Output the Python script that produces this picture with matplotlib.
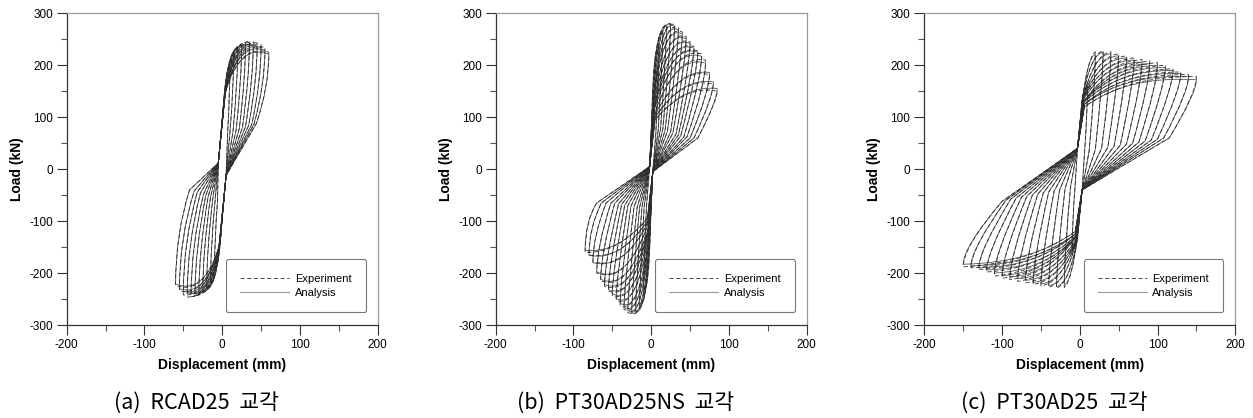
import matplotlib
matplotlib.use("Agg")
import matplotlib.pyplot as plt
from matplotlib.ticker import MultipleLocator
from matplotlib.path import Path
from matplotlib.patches import PathPatch
from matplotlib.lines import Line2D

# ---- panel (a) RCAD25 : one entry per displacement cycle ----
a_amp = [10, 15, 20, 25, 30, 35, 40, 45, 50, 55, 60]
a_exp_pos = [200, 222, 234, 240, 244, 246, 245, 243, 240, 234, 225]
a_exp_neg = [-195, -218, -230, -236, -240, -243, -245, -246, -242, -234, -224]
a_ana_pos = [206, 226, 236, 239, 240, 240, 239, 237, 234, 229, 221]
a_ana_neg = [-200, -222, -232, -236, -238, -239, -239, -238, -235, -230, -221]
a_stiff_x = [1, 2, 2, 2, 3, 3, 3, 3, 4, 4, 4]
a_stiff_f = [110, 120, 125, 130, 135, 140, 140, 145, 145, 150, 150]
a_knee_x = [4, 6, 8, 10, 12, 14, 16, 18, 20, 22, 24]
a_knee_f = [190, 215, 230, 238, 244, 248, 250, 250, 250, 248, 244]
a_drop_pos = [150, 162, 170, 175, 178, 178, 176, 172, 168, 164, 158]
a_drop_neg = [-140, -150, -155, -158, -158, -155, -150, -145, -140, -132, -124]
a_mid_pos_x = [7, 10, 14, 18, 22, 26, 30, 34, 38, 41, 44]
a_mid_pos_f = [70, 72, 74, 76, 78, 80, 82, 84, 86, 87, 88]
a_mid_neg_x = [-6, -9, -12, -15, -18, -21, -24, -28, -32, -36, -42]
a_mid_neg_f = [-60, -58, -56, -54, -52, -50, -48, -46, -44, -42, -40]
a_pinch = (5, 12)

# ---- panel (b) PT30AD25NS ----
b_amp = [10, 15, 20, 25, 30, 35, 40, 45, 50, 55, 60, 65, 70, 75, 80, 85]
b_exp_pos = [235, 262, 276, 280, 278, 272, 264, 255, 245, 236, 228, 222, 210, 182, 164, 150]
b_exp_neg = [-230, -258, -272, -278, -276, -270, -262, -252, -243, -235, -226, -215, -200, -178, -165, -160]
b_ana_pos = [240, 266, 276, 278, 275, 268, 260, 251, 242, 233, 225, 217, 204, 186, 168, 155]
b_ana_neg = [-236, -262, -274, -276, -272, -266, -258, -249, -240, -232, -222, -212, -198, -180, -166, -156]
b_stiff_x = [1, 2, 2, 2, 3, 3, 3, 3, 4, 4, 4, 4, 5, 5, 5, 5]
b_stiff_f = [110, 120, 125, 130, 130, 130, 130, 125, 125, 120, 120, 115, 110, 105, 100, 95]
b_knee_x = [3, 5, 7, 9, 11, 13, 15, 18, 20, 23, 26, 29, 32, 36, 40, 44]
b_knee_f = [240, 268, 285, 292, 292, 288, 282, 272, 262, 252, 244, 236, 222, 196, 178, 164]
b_drop_pos = [200, 225, 238, 240, 238, 232, 225, 215, 205, 198, 190, 180, 165, 150, 140, 132]
b_drop_neg = [-200, -222, -232, -236, -234, -228, -220, -210, -200, -190, -180, -165, -150, -130, -112, -100]
b_mid_pos_x = [6, 9, 12, 15, 18, 21, 25, 28, 32, 35, 38, 42, 46, 50, 55, 60]
b_mid_pos_f = [70, 75, 78, 78, 76, 74, 72, 70, 68, 66, 64, 62, 62, 60, 60, 60]
b_mid_neg_x = [-6, -9, -12, -15, -18, -22, -26, -30, -34, -38, -42, -47, -52, -58, -64, -70]
b_mid_neg_f = [-70, -72, -74, -74, -73, -72, -71, -70, -69, -68, -67, -66, -66, -65, -65, -65]
b_pinch = (2, 5)

# ---- panel (c) PT30AD25 ----
c_amp = [10, 20, 30, 40, 50, 60, 70, 80, 90, 100, 110, 120, 130, 140, 150]
c_exp_pos = [160, 226, 228, 226, 222, 218, 214, 211, 208, 205, 200, 193, 187, 182, 178]
c_exp_neg = [-155, -228, -229, -227, -225, -222, -219, -216, -213, -210, -206, -198, -193, -190, -188]
c_ana_pos = [166, 222, 225, 222, 218, 214, 210, 206, 203, 200, 196, 190, 184, 178, 172]
c_ana_neg = [-160, -224, -226, -224, -221, -218, -214, -211, -208, -205, -200, -194, -190, -186, -183]
c_stiff_x = [2, 3, 3, 4, 4, 4, 4, 5, 5, 5, 5, 5, 6, 6, 6]
c_stiff_f = [100, 130, 135, 135, 135, 135, 135, 135, 130, 130, 130, 128, 125, 125, 120]
c_knee_x = [4, 10, 14, 18, 22, 26, 30, 34, 38, 42, 46, 50, 54, 58, 62]
c_knee_f = [150, 215, 222, 222, 218, 214, 210, 206, 202, 199, 196, 192, 188, 184, 181]
c_drop_pos = [110, 170, 178, 178, 176, 174, 172, 170, 168, 166, 163, 160, 155, 150, 146]
c_drop_neg = [-110, -170, -180, -180, -178, -176, -174, -172, -170, -168, -165, -162, -158, -154, -150]
c_mid_pos_x = [6, 12, 20, 28, 36, 44, 52, 60, 68, 76, 84, 92, 100, 108, 115]
c_mid_pos_f = [30, 35, 38, 40, 42, 44, 46, 48, 50, 52, 54, 56, 58, 60, 60]
c_mid_neg_x = [-6, -12, -19, -26, -33, -40, -47, -54, -61, -68, -75, -82, -89, -95, -100]
c_mid_neg_f = [-30, -35, -38, -40, -42, -44, -46, -48, -50, -52, -54, -56, -58, -60, -62]
c_pinch = (3, 40)

captions = ["(a)  RCAD25  교각", "(b)  PT30AD25NS  교각", "(c)  PT30AD25  교각"]


def loop_path(amp, pos, neg, sx, sf, kx, kf, dpos, dneg, mpx, mpf, mnx, mnf, pinch):
    # each half cycle: pinch -> stiff branch -> (knee as curve control) -> peak
    # -> (drop as curve control) -> unloading mid point -> pinch
    px, pf = pinch
    verts = [(-px, pf)]
    codes = [Path.MOVETO]
    for i in range(len(amp)):
        verts += [(sx[i], sf[i]), (kx[i], kf[i]), (amp[i], pos[i]),
                  (amp[i], dpos[i]), (mpx[i], mpf[i]), (px, -pf)]
        verts += [(-sx[i], -sf[i]), (-kx[i], -kf[i]), (-amp[i], neg[i]),
                  (-amp[i], dneg[i]), (mnx[i], mnf[i]), (-px, pf)]
        half = [Path.LINETO, Path.CURVE3, Path.CURVE3, Path.CURVE3, Path.CURVE3, Path.LINETO]
        codes += half + half
    return Path(verts, codes)


panels = [
    (a_amp, a_exp_pos, a_exp_neg, a_ana_pos, a_ana_neg, a_stiff_x, a_stiff_f, a_knee_x, a_knee_f,
     a_drop_pos, a_drop_neg, a_mid_pos_x, a_mid_pos_f, a_mid_neg_x, a_mid_neg_f, a_pinch),
    (b_amp, b_exp_pos, b_exp_neg, b_ana_pos, b_ana_neg, b_stiff_x, b_stiff_f, b_knee_x, b_knee_f,
     b_drop_pos, b_drop_neg, b_mid_pos_x, b_mid_pos_f, b_mid_neg_x, b_mid_neg_f, b_pinch),
    (c_amp, c_exp_pos, c_exp_neg, c_ana_pos, c_ana_neg, c_stiff_x, c_stiff_f, c_knee_x, c_knee_f,
     c_drop_pos, c_drop_neg, c_mid_pos_x, c_mid_pos_f, c_mid_neg_x, c_mid_neg_f, c_pinch),
]

plt.rcParams['font.family'] = ['Liberation Sans', 'DejaVu Sans']
plt.rcParams['axes.unicode_minus'] = False

fig = plt.figure(figsize=(12.53, 4.18), dpi=100)
lefts = [66.7, 495.7, 924.3]

for n, p in enumerate(panels):
    (amp, ep, en, ap, an, sx, sf, kx, kf, dp, dn, mpx, mpf, mnx, mnf, pinch) = p
    ax = fig.add_axes([lefts[n] / 1253, 93 / 418, 311 / 1253, 311.7 / 418])

    ana = loop_path(amp, ap, an, sx, sf, kx, kf, dp, dn, mpx, mpf, mnx, mnf, pinch)
    exp = loop_path(amp, ep, en, sx, sf, kx, kf, dp, dn, mpx, mpf, mnx, mnf, pinch)
    ax.add_patch(PathPatch(ana, fill=False, edgecolor='#555555', lw=0.6, zorder=2))
    ax.add_patch(PathPatch(exp, fill=False, edgecolor='#2e2e2e', lw=0.6,
                           linestyle=(0, (5, 3)), zorder=3))

    ax.set_xlim(-200, 200)
    ax.set_ylim(-300, 300)
    ax.xaxis.set_major_locator(MultipleLocator(100))
    ax.xaxis.set_minor_locator(MultipleLocator(50))
    ax.yaxis.set_major_locator(MultipleLocator(100))
    ax.yaxis.set_minor_locator(MultipleLocator(50))
    ax.tick_params(which='major', direction='out', length=7, width=0.8, color='#333333',
                   labelsize=8.5, pad=3)
    ax.tick_params(which='minor', direction='out', length=4, width=0.8, color='#555555')
    for s in ['left', 'bottom']:
        ax.spines[s].set_color('#333333')
        ax.spines[s].set_linewidth(0.9)
    for s in ['top', 'right']:
        ax.spines[s].set_color('#9a9a9a')
        ax.spines[s].set_linewidth(0.9)

    ax.set_xlabel('Displacement (mm)', fontsize=10, fontweight='bold', labelpad=5)
    ax.set_ylabel('Load (kN)', fontsize=10, fontweight='bold', labelpad=4)

    handles = [Line2D([], [], color='#2e2e2e', lw=0.6, dashes=(5, 3)),
               Line2D([], [], color='#999999', lw=0.8)]
    leg = ax.legend(handles, ['Experiment', 'Analysis'], loc='lower right',
                    bbox_to_anchor=(0.962, 0.041), fontsize=8, frameon=True,
                    fancybox=True, handlelength=4.4, handletextpad=0.5,
                    borderpad=1.3, labelspacing=0.35, borderaxespad=0)
    leg.get_frame().set_edgecolor('#555555')
    leg.get_frame().set_linewidth(0.8)

    fig.text((lefts[n] + 130) / 1253, 15 / 418, captions[n], ha='center', va='center',
             fontsize=15.5, family=['Noto Sans CJK KR', 'DejaVu Sans'])

fig.savefig('out.png', dpi=100)
